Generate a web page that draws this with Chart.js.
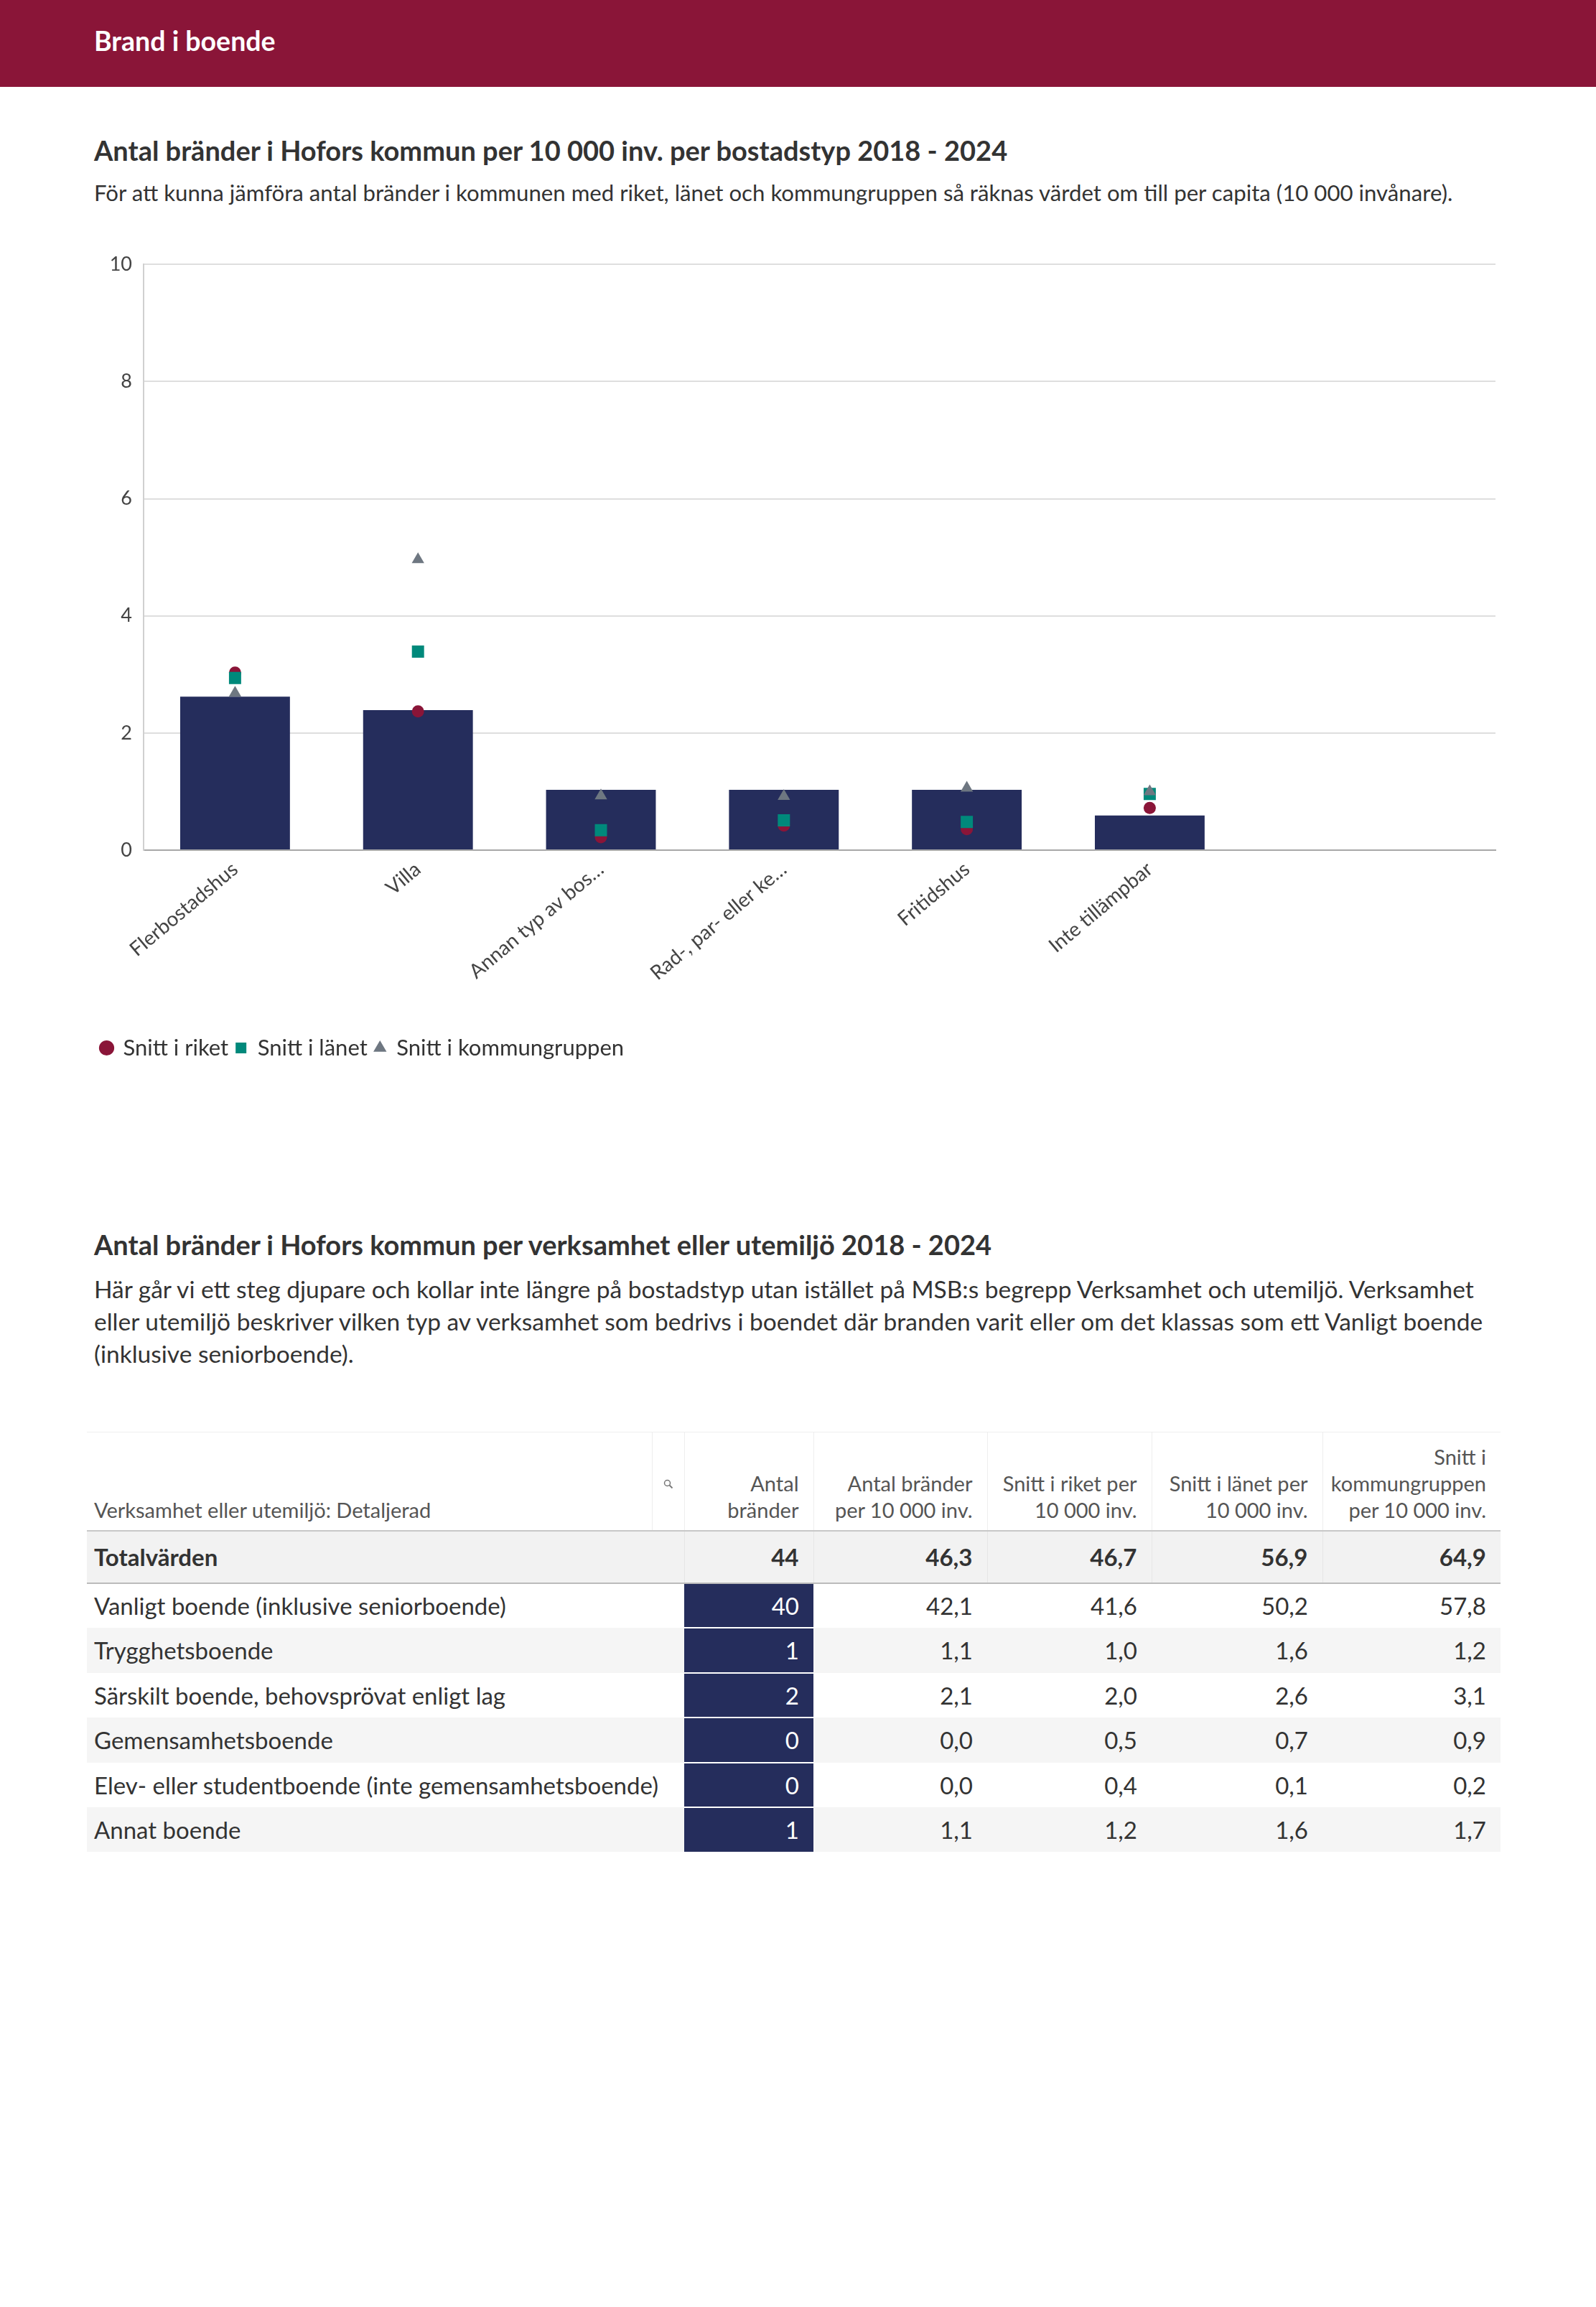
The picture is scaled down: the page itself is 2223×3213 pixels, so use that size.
<!DOCTYPE html>
<html lang="sv">
<head>
<meta charset="utf-8">
<title>Brand i boende</title>
<script src="https://cdn.jsdelivr.net/npm/chart.js@4.4.1/dist/chart.umd.min.js"></script>
<style>
    body { margin: 0; background: #fff; font-family: 'Lato', sans-serif; color: #333; }
    #page { position: relative; width: 2223px; height: 3213px; }
    #top-band { position: absolute; left: 0; top: 0; width: 2223px; height: 121px; background: #8a1538; }
    #top-band h1 { position: absolute; left: 131px; top: 34px; margin: 0; font-size: 37.5px; line-height: 46px; font-weight: 700; color: #fff; }
    .title { position: absolute; left: 131px; margin: 0; font-size: 38px; line-height: 44px; font-weight: 700; color: #333; }
    .desc { position: absolute; left: 131px; margin: 0; color: #333; }
    #chart-box { position: absolute; left: 131px; top: 336px; width: 1964px; height: 1149px; }
    #fire-table { position: absolute; left: 121px; top: 1994px; width: 1969px; border-collapse: collapse; table-layout: fixed; }
    #fire-table th { font-size: 29px; line-height: 37px; font-weight: 400; color: #555; vertical-align: bottom; text-align: right; padding: 0 20px 10px 0; border-left: 1px solid #eee; border-top: 1px solid #eee; }
    #fire-table th.first { text-align: left; padding-left: 10px; border-left: none; }
    #fire-table td { font-size: 33px; height: 60.5px; padding: 0 20px 0 0; text-align: right; color: #333; }
    #fire-table td.first { text-align: left; padding-left: 10px; }
    #fire-table tr.total td { height: 71px; font-weight: 700; background: #f2f2f2; border-top: 2px solid #c8c8c8; border-bottom: 2px solid #bbb; }
    #fire-table tr.total td + td { border-left: 1px solid #e6e6e6; }
    #fire-table tr.odd td { background: #f5f5f5; }
    #fire-table td.bar-cell { background: #252d5c !important; color: #fff; border-top: 2px solid #fff; }
</style>
</head>
<body>
<div id="page">
    <div id="top-band"><h1>Brand i boende</h1></div>

    <h2 class="title" style="top:187px">Antal bränder i Hofors kommun per 10 000 inv. per bostadstyp 2018 - 2024</h2>
    <p class="desc" style="top:249px; font-size:31.2px; line-height:38px">För att kunna jämföra antal bränder i kommunen med riket, länet och kommungruppen så räknas värdet om till per capita (10 000 invånare).</p>

    <div id="chart-box"><canvas id="bostad-chart"></canvas></div>

    <h2 class="title" style="top:1711px">Antal bränder i Hofors kommun per verksamhet eller utemiljö 2018 - 2024</h2>
    <p class="desc" style="top:1773px; font-size:33.5px; line-height:45px">Här går vi ett steg djupare och kollar inte längre på bostadstyp utan istället på MSB:s begrepp Verksamhet och utemiljö. Verksamhet<br>eller utemiljö beskriver vilken typ av verksamhet som bedrivs i boendet där branden varit eller om det klassas som ett Vanligt boende<br>(inklusive seniorboende).</p>

    <table id="fire-table">
        <colgroup>
            <col style="width:787px"><col style="width:45px"><col style="width:180px"><col style="width:242px">
            <col style="width:229px"><col style="width:238px"><col style="width:248px">
        </colgroup>
        <thead>
            <tr style="height:137px">
                <th class="first">Verksamhet eller utemiljö: Detaljerad</th>
                <th style="padding:0; text-align:center; vertical-align:middle">
                    <svg width="14" height="14" viewBox="0 0 14 14"><circle cx="5.5" cy="5.5" r="4" fill="none" stroke="#777" stroke-width="1.5"/><line x1="8.5" y1="8.5" x2="12.5" y2="12.5" stroke="#777" stroke-width="1.8"/></svg>
                </th>
                <th>Antal<br>bränder</th>
                <th>Antal bränder<br>per 10 000 inv.</th>
                <th>Snitt i riket per<br>10 000 inv.</th>
                <th>Snitt i länet per<br>10 000 inv.</th>
                <th>Snitt i<br>kommungruppen<br>per 10 000 inv.</th>
            </tr>
        </thead>
        <tbody id="table-body"></tbody>
    </table>
</div>

<script>
// Diagram: bränder per bostadstyp
const categories = ['Flerbostadshus', 'Villa', 'Annan typ av bos…', 'Rad-, par- eller ke…', 'Fritidshus', 'Inte tillämpbar'];
const kommunValues = [2.62, 2.39, 1.03, 1.03, 1.03, 0.59];
const riketValues = [3.03, 2.37, 0.22, 0.42, 0.36, 0.72];
const lanetValues = [2.94, 3.39, 0.34, 0.51, 0.48, 0.96];
const kommungruppValues = [2.68, 4.96, 0.93, 0.92, 1.06, 1.0];
const yTicks = [0, 2, 4, 6, 8, 10];

// Tabell: verksamhet eller utemiljö
const tableRows = [
    'Vanligt boende (inklusive seniorboende)',
    'Trygghetsboende',
    'Särskilt boende, behovsprövat enligt lag',
    'Gemensamhetsboende',
    'Elev- eller studentboende (inte gemensamhetsboende)',
    'Annat boende'
];
const antalBrander = [40, 1, 2, 0, 0, 1];
const branderPerInv = [42.1, 1.1, 2.1, 0.0, 0.0, 1.1];
const riketPerInv = [41.6, 1.0, 2.0, 0.5, 0.4, 1.2];
const lanetPerInv = [50.2, 1.6, 2.6, 0.7, 0.1, 1.6];
const kommungruppPerInv = [57.8, 1.2, 3.1, 0.9, 0.2, 1.7];
const totalValues = [44, 46.3, 46.7, 56.9, 64.9];

const RED = '#8a1538';
const TEAL = '#00897b';
const GREY = '#6e7781';
const NAVY = '#252d5c';

function toPoints(values) {
    return values.map((v, i) => ({ x: i, y: v }));
}

function fmt(v) {
    return v.toFixed(1).replace('.', ',');
}

function buildTable() {
    const body = document.getElementById('table-body');
    let html = '<tr class="total"><td class="first" colspan="2">Totalvärden</td>';
    html += '<td>' + totalValues[0] + '</td>';
    for (let i = 1; i < totalValues.length; i++) html += '<td>' + fmt(totalValues[i]) + '</td>';
    html += '</tr>';
    tableRows.forEach((name, i) => {
        html += '<tr class="' + (i % 2 === 1 ? 'odd' : '') + '">';
        html += '<td class="first" colspan="2">' + name + '</td>';
        html += '<td class="bar-cell">' + antalBrander[i] + '</td>';
        html += '<td>' + fmt(branderPerInv[i]) + '</td>';
        html += '<td>' + fmt(riketPerInv[i]) + '</td>';
        html += '<td>' + fmt(lanetPerInv[i]) + '</td>';
        html += '<td>' + fmt(kommungruppPerInv[i]) + '</td>';
        html += '</tr>';
    });
    body.innerHTML = html;
}

function buildChart() {
    Chart.defaults.font.family = 'Lato';
    Chart.defaults.color = '#444';

    new Chart(document.getElementById('bostad-chart'), {
        type: 'bar',
        data: {
            datasets: [
                {
                    label: 'Hofors kommun',
                    data: toPoints(kommunValues),
                    backgroundColor: NAVY,
                    barPercentage: 0.6,
                    categoryPercentage: 1,
                    order: 4
                },
                {
                    type: 'line',
                    label: 'Snitt i riket',
                    data: toPoints(riketValues),
                    showLine: false,
                    pointStyle: 'circle',
                    pointRadius: 8.5,
                    backgroundColor: RED,
                    borderColor: RED,
                    borderWidth: 0,
                    order: 3
                },
                {
                    type: 'line',
                    label: 'Snitt i länet',
                    data: toPoints(lanetValues),
                    showLine: false,
                    pointStyle: 'rect',
                    pointRadius: 12,
                    backgroundColor: TEAL,
                    borderColor: TEAL,
                    borderWidth: 0,
                    order: 2
                },
                {
                    type: 'line',
                    label: 'Snitt i kommungruppen',
                    data: toPoints(kommungruppValues),
                    showLine: false,
                    pointStyle: 'triangle',
                    pointRadius: 10,
                    backgroundColor: GREY,
                    borderColor: GREY,
                    borderWidth: 0,
                    order: 1
                }
            ]
        },
        options: {
            responsive: true,
            maintainAspectRatio: false,
            animation: false,
            layout: { padding: { top: 12, right: 5 } },
            plugins: {
                tooltip: { enabled: false },
                legend: {
                    position: 'bottom',
                    align: 'start',
                    labels: {
                        usePointStyle: true,
                        boxWidth: 15,
                        boxHeight: 15,
                        padding: 10,
                        color: '#333',
                        font: { size: 31 },
                        filter: item => item.datasetIndex !== 0,
                        sort: (a, b) => a.datasetIndex - b.datasetIndex
                    }
                }
            },
            scales: {
                x: {
                    type: 'linear',
                    min: -0.5,
                    max: 6.89,
                    offset: false,
                    grid: { display: false },
                    border: { color: '#a8a8a8', width: 2 },
                    ticks: {
                        stepSize: 1,
                        includeBounds: false,
                        autoSkip: false,
                        minRotation: 40,
                        maxRotation: 40,
                        padding: 2,
                        color: '#444',
                        font: { size: 28 },
                        callback: value => (Number.isInteger(value) && categories[value] !== undefined) ? categories[value] : ''
                    },
                    afterFit: axis => { axis.height = 250; }
                },
                y: {
                    min: yTicks[0],
                    max: yTicks[yTicks.length - 1],
                    grid: { color: '#dedede', lineWidth: 2, drawTicks: false },
                    border: { color: '#d0d0d0', width: 2 },
                    ticks: {
                        stepSize: yTicks[1] - yTicks[0],
                        padding: 16,
                        color: '#444',
                        font: { size: 27 }
                    },
                    afterFit: axis => { axis.width = 69; }
                }
            }
        }
    });
}

window.addEventListener('load', () => {
    buildTable();
    buildChart();
});
</script>
</body>
</html>
